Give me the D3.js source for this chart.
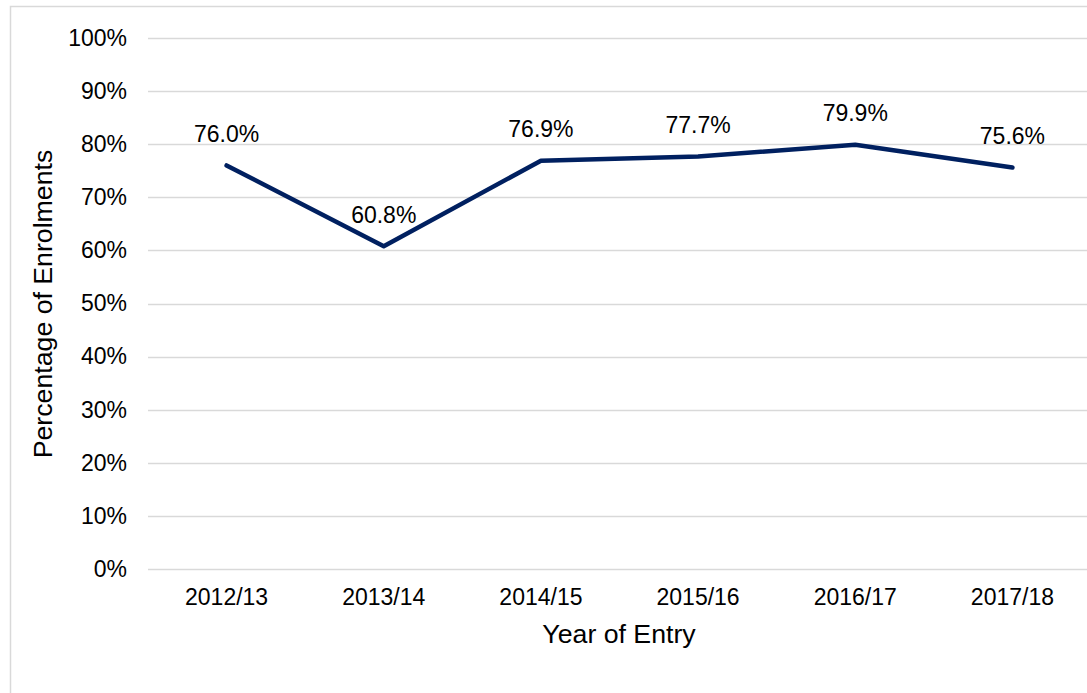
<!DOCTYPE html>
<html>
<head>
<meta charset="utf-8">
<script src="https://cdn.jsdelivr.net/npm/d3@7"></script>
<style>
    body { margin: 0; background: #fff; }
    text { font-family: "Liberation Sans", Arial, sans-serif; fill: #000; }
</style>
</head>
<body>
<script>
//chart values
var years = ["2012/13", "2013/14", "2014/15", "2015/16", "2016/17", "2017/18"];
var enrolPct = [76.0, 60.8, 76.9, 77.7, 79.9, 75.6];
var yTicks = [0, 10, 20, 30, 40, 50, 60, 70, 80, 90, 100];

window.onload = drawChart();

function drawChart(){

    var width = 1087,
        height = 693;

    var svg = d3.select("body")
        .append("svg")
        .attr("width", width)
        .attr("height", height);

    //outer chart border, runs off the right and bottom edges
    svg.append("rect")
        .attr("x", 10.5)
        .attr("y", 6.5)
        .attr("width", width + 20)
        .attr("height", height + 20)
        .attr("fill", "none")
        .attr("stroke", "#d9d9d9")
        .attr("stroke-width", 1.5);

    //plot area
    var left = 148, right = 1091, top = 38, bottom = 569;

    var x = d3.scaleBand()
        .domain(years)
        .range([left, right]);

    var y = d3.scaleLinear()
        .domain([0, 100])
        .range([bottom, top]);

    //gridlines
    svg.selectAll(".grid")
        .data(yTicks)
        .enter()
        .append("line")
        .attr("class", "grid")
        .attr("x1", left)
        .attr("x2", right)
        .attr("y1", function(d){ return Math.round(y(d)) + 0.5; })
        .attr("y2", function(d){ return Math.round(y(d)) + 0.5; })
        .attr("stroke", "#d9d9d9")
        .attr("stroke-width", 1.3);

    //y axis labels
    var yAxis = d3.axisLeft(y)
        .tickValues(yTicks)
        .tickSize(0)
        .tickPadding(0)
        .tickFormat(function(d){ return d + "%"; });

    var yG = svg.append("g")
        .attr("transform", "translate(127,0)")
        .call(yAxis);
    yG.select(".domain").remove();
    yG.selectAll("text")
        .attr("font-size", "23px")
        .attr("font-family", null);

    //x axis labels
    var xAxis = d3.axisBottom(x)
        .tickSize(0)
        .tickPadding(0);

    var xG = svg.append("g")
        .attr("transform", "translate(0,588)")
        .call(xAxis);
    xG.select(".domain").remove();
    xG.selectAll("text")
        .attr("font-size", "23px")
        .attr("font-family", null)
        .attr("dy", "0.72em");

    //line
    var line = d3.line()
        .x(function(d, i){ return x(years[i]) + x.bandwidth() / 2; })
        .y(function(d){ return y(d); });

    svg.append("path")
        .datum(enrolPct)
        .attr("d", line)
        .attr("fill", "none")
        .attr("stroke", "#002060")
        .attr("stroke-width", 4.5)
        .attr("stroke-linejoin", "round")
        .attr("stroke-linecap", "round");

    //data labels
    svg.selectAll(".lbl")
        .data(enrolPct)
        .enter()
        .append("text")
        .attr("class", "lbl")
        .attr("x", function(d, i){ return x(years[i]) + x.bandwidth() / 2; })
        .attr("y", function(d){ return y(d) - 23.5; })
        .attr("text-anchor", "middle")
        .attr("font-size", "23px")
        .text(function(d){ return d.toFixed(1) + "%"; });

    //axis titles
    svg.append("text")
        .attr("x", 619)
        .attr("y", 643)
        .attr("text-anchor", "middle")
        .attr("font-size", "26.7px")
        .text("Year of Entry");

    svg.append("text")
        .attr("transform", "translate(52,304) rotate(-90)")
        .attr("text-anchor", "middle")
        .attr("font-size", "26.7px")
        .text("Percentage of Enrolments");
}
</script>
</body>
</html>
